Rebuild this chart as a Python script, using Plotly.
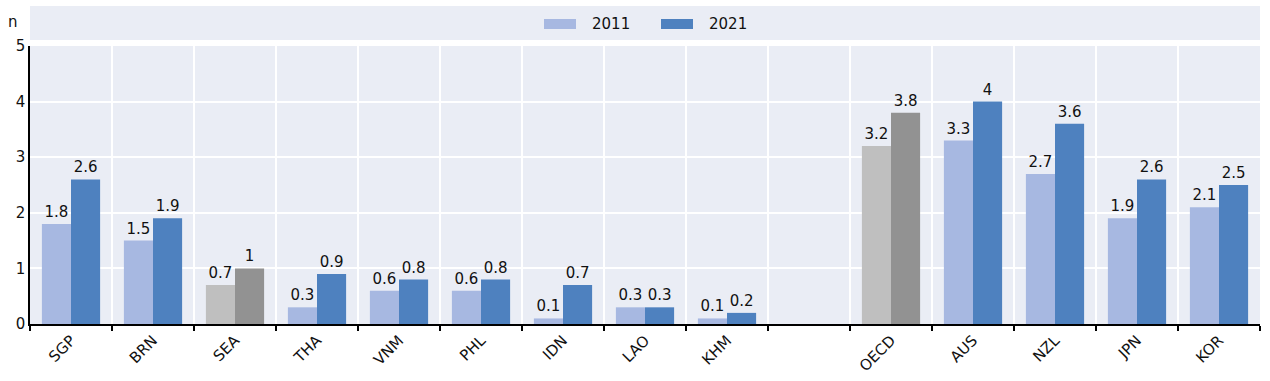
import plotly.graph_objects as go

categories = ["SGP", "BRN", "SEA", "THA", "VNM", "PHL", "IDN", "LAO", "KHM", " ", "OECD", "AUS", "NZL", "JPN", "KOR"]
values_2011 = [1.8, 1.5, 0.7, 0.3, 0.6, 0.6, 0.1, 0.3, 0.1, None, 3.2, 3.3, 2.7, 1.9, 2.1]
values_2021 = [2.6, 1.9, 1.0, 0.9, 0.8, 0.8, 0.7, 0.3, 0.2, None, 3.8, 4.0, 3.6, 2.6, 2.5]
series_names = ["2011", "2021"]
grey_cats = {"SEA", "OECD"}

C11, C21 = "#a7b8e1", "#4e81bf"
G11, G21 = "#bfbfbf", "#929292"
col11 = [G11 if c in grey_cats else C11 for c in categories]
col21 = [G21 if c in grey_cats else C21 for c in categories]

W, H = 1270, 381
ML, MR, MT, MB = 30, 10, 46, 57
font = "DejaVu Sans"

fig = go.Figure()
for name, vals, cols in [(series_names[0], values_2011, col11), (series_names[1], values_2021, col21)]:
    fig.add_bar(x=categories, y=vals, name=name, marker=dict(color=cols, line_width=0),
                texttemplate="%{y}", textposition="outside",
                textfont=dict(size=15, color="#111"), cliponaxis=False, showlegend=False)

def px_x(x):
    return (x - ML) / (W - ML - MR)
def px_y(y):
    return (H - MB - y) / (H - MT - MB)

shapes = [dict(type="rect", xref="paper", yref="paper", x0=0, x1=1, y0=px_y(40), y1=px_y(6),
               fillcolor="#eaedf5", line_width=0, layer="below")]
annotations = [dict(text="n", xref="paper", yref="paper", x=px_x(13), y=px_y(22),
                    xanchor="center", yanchor="middle", showarrow=False, font=dict(size=15))]
legend_items = [(544, 576, 590, series_names[0], C11), (661, 693, 707, series_names[1], C21)]
for x0, x1, tx, label, col in legend_items:
    shapes.append(dict(type="rect", xref="paper", yref="paper", x0=px_x(x0), x1=px_x(x1),
                       y0=px_y(29), y1=px_y(19), fillcolor=col, line_width=0))
    annotations.append(dict(text=label, xref="paper", yref="paper", x=px_x(tx), y=px_y(24),
                            xanchor="left", yanchor="middle", showarrow=False, font=dict(size=15)))

fig.update_layout(
    width=W, height=H,
    margin=dict(l=ML, r=MR, t=MT, b=MB, autoexpand=False),
    paper_bgcolor="white", plot_bgcolor="#eaedf5",
    font=dict(family=font, size=15, color="#111"),
    barmode="group", bargap=0.29, bargroupgap=0,
    showlegend=False,
    shapes=shapes, annotations=annotations,
)
fig.update_xaxes(type="category", tickson="boundaries", showgrid=True, gridcolor="white", gridwidth=1.5,
                 ticks="outside", ticklen=5, tickcolor="black", tickwidth=1.5, tickangle=-45,
                 showline=True, linecolor="black", linewidth=1.5, tickfont=dict(size=15), automargin=False)
fig.update_yaxes(range=[0, 5], dtick=1, showgrid=True, gridcolor="white", gridwidth=1.5,
                 showline=True, linecolor="black", linewidth=1.5, zeroline=False,
                 ticks="", tickfont=dict(size=15), automargin=False)

fig.write_html("out.html", config={"displayModeBar": False},
               post_script="document.body.style.margin='0';document.body.style.overflow='hidden';")
